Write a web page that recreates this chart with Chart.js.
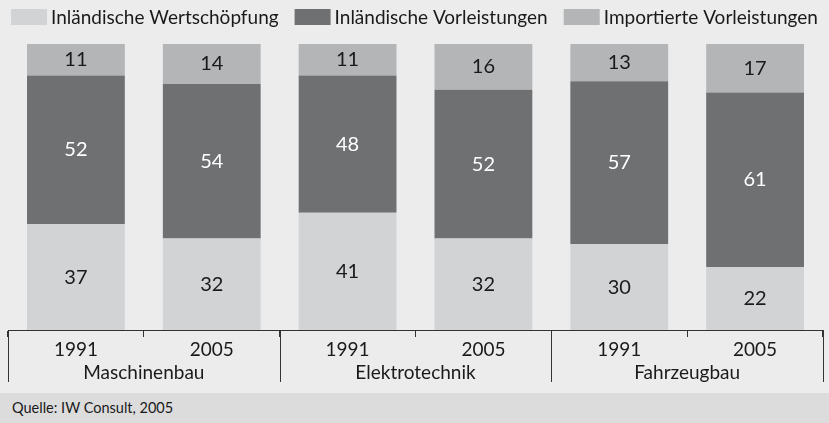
<!DOCTYPE html>
<html>
<head>
<meta charset="utf-8">
<script src="https://cdn.jsdelivr.net/npm/chart.js@4/dist/chart.umd.min.js"></script>
<style>
  html, body { margin: 0; padding: 0; background: #ececec; }
  #wrap { width: 829px; height: 393px; position: relative; }
  #footer { width: 829px; height: 30px; background: #dcdcdc; font-family: Lato, sans-serif; font-size: 14.5px; color: #1a1a1a; line-height: 30px; box-sizing: border-box; padding-left: 12px; }
</style>
</head>
<body>
<div id="wrap"><canvas id="c" width="829" height="393"></canvas></div>
<div id="footer">Quelle: IW Consult, 2005</div>
<script>
const years = ['1991', '2005', '1991', '2005', '1991', '2005'];
const groups = ['Maschinenbau', 'Elektrotechnik', 'Fahrzeugbau'];
const seriesNames = ['Inländische Wertschöpfung', 'Inländische Vorleistungen', 'Importierte Vorleistungen'];
const inlWertschoepfung = [37, 32, 41, 32, 30, 22];
const inlVorleistungen = [52, 54, 48, 52, 57, 61];
const impVorleistungen = [11, 14, 11, 16, 13, 17];

const FONT = 'Lato';
const colors = ['#d2d3d5', '#6f7072', '#b4b5b7'];
const labelColors = ['#1a1a1a', '#ffffff', '#1a1a1a'];

const valueLabels = {
  id: 'valueLabels',
  afterDatasetsDraw(chart) {
    const ctx = chart.ctx;
    ctx.save();
    ctx.font = '20px ' + FONT;
    ctx.textAlign = 'center';
    ctx.textBaseline = 'middle';
    chart.data.datasets.forEach((ds, di) => {
      const meta = chart.getDatasetMeta(di);
      meta.data.forEach((el, i) => {
        const p = el.getCenterPoint();
        ctx.fillStyle = labelColors[di];
        ctx.fillText(String(ds.data[i]), p.x, p.y);
      });
    });
    ctx.restore();
  }
};

const separators = {
  id: 'separators',
  afterDraw(chart) {
    const xs = chart.scales.x;
    const ctx = chart.ctx;
    const n = years.length;
    const step = (xs.right - xs.left) / n;
    ctx.save();
    ctx.strokeStyle = '#333333';
    ctx.lineWidth = 1;
    for (let i = 0; i <= n; i += 2) {
      const px = Math.round(xs.left + i * step) + 0.5;
      ctx.beginPath();
      ctx.moveTo(px, xs.top);
      ctx.lineTo(px, xs.top + 52);
      ctx.stroke();
    }
    ctx.restore();
  }
};

const customLegend = {
  id: 'customLegend',
  afterDraw(chart) {
    const ctx = chart.ctx;
    ctx.save();
    ctx.font = '19px ' + FONT;
    ctx.textBaseline = 'middle';
    const boxW = 36, boxH = 16, gapText = 4, gapItem = 16;
    const widths = seriesNames.map(s => ctx.measureText(s).width);
    const total = widths.reduce((a, w) => a + boxW + gapText + w, 0) + gapItem * (seriesNames.length - 1);
    let x = (chart.width - total) / 2;
    const cy = 17;
    seriesNames.forEach((s, i) => {
      ctx.fillStyle = colors[i];
      ctx.fillRect(x, cy - boxH / 2, boxW, boxH);
      x += boxW + gapText;
      ctx.fillStyle = '#1a1a1a';
      ctx.fillText(s, x, cy + 1);
      x += widths[i] + gapItem;
    });
    ctx.restore();
  }
};

const datasets = [inlWertschoepfung, inlVorleistungen, impVorleistungen].map((d, i) => ({
  label: seriesNames[i],
  data: d,
  backgroundColor: colors[i],
  borderWidth: 0,
  categoryPercentage: 1.0,
  barPercentage: 0.72
}));

new Chart(document.getElementById('c'), {
  type: 'bar',
  data: { labels: years, datasets },
  options: {
    responsive: false,
    animation: false,
    events: [],
    layout: { padding: { top: 44, left: 8, right: 6, bottom: 6 } },
    plugins: { legend: { display: false }, tooltip: { enabled: false } },
    scales: {
      x: {
        stacked: true,
        position: 'bottom',
        weight: 0,
        grid: { offset: true, drawOnChartArea: false, drawTicks: true, tickLength: 7, tickColor: '#333333', color: '#333333', lineWidth: 1 },
        border: { display: true, color: '#333333', width: 1 },
        ticks: { font: { family: FONT, size: 19 }, color: '#1a1a1a', padding: 1, maxRotation: 0, autoSkip: false },
        afterFit(s) { s.height = 31; }
      },
      x2: {
        type: 'category',
        labels: groups,
        position: 'bottom',
        offset: true,
        weight: 1,
        grid: { display: false, drawTicks: false },
        border: { display: false },
        ticks: { font: { family: FONT, size: 19 }, color: '#1a1a1a', padding: 0, maxRotation: 0, autoSkip: false },
        afterFit(s) { s.height = 26; }
      },
      y: {
        stacked: true,
        display: false,
        min: 0,
        max: 100
      }
    }
  },
  plugins: [valueLabels, separators, customLegend]
});
</script>
</body>
</html>
